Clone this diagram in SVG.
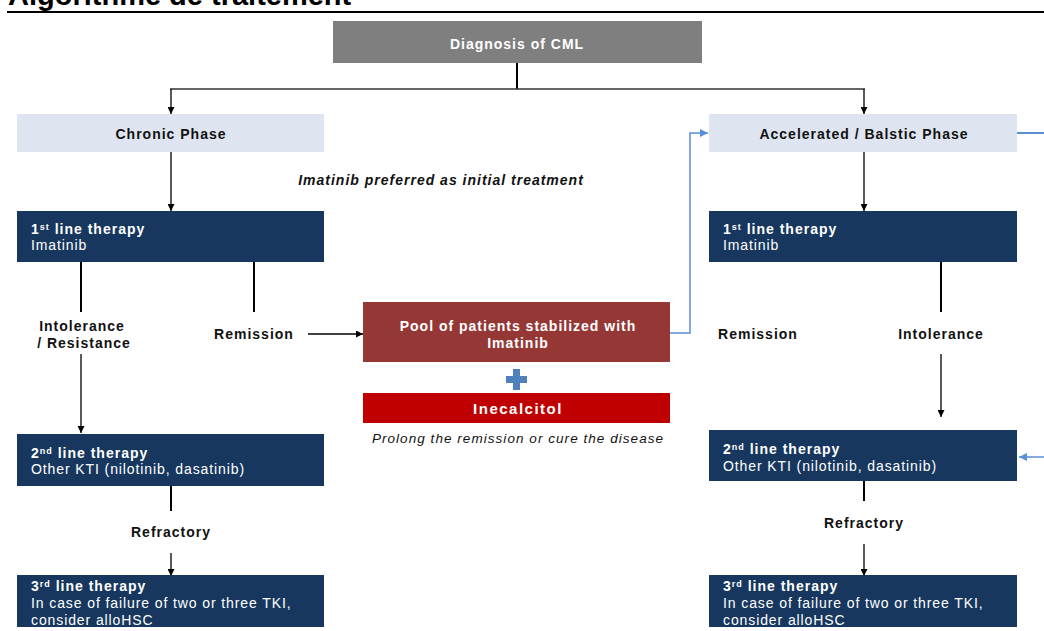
<svg xmlns="http://www.w3.org/2000/svg" width="1044" height="631" viewBox="0 0 1044 631">
<defs>
<style>
text{font-family:"Liberation Sans",Arial,sans-serif;}
.b{font-weight:bold;font-size:14px;letter-spacing:1px;}
.lbl{font-weight:bold;font-size:14px;letter-spacing:1px;fill:#111;text-anchor:middle;}
.w{fill:#fff;}
.n{font-size:14px;letter-spacing:0.9px;fill:#fff;}
.sup{font-size:9px;}
.navy{fill:#17375e;}
.phase{fill:#dee5f0;}
.ln{stroke:#000;stroke-width:2;fill:none;}
.ar{stroke:#000;stroke-width:1.3;fill:none;marker-end:url(#ah);}
.bl{stroke:#5a8fd8;stroke-width:1.5;fill:none;}
</style>
<marker id="ah" viewBox="0 0 10 10" refX="10" refY="5" markerWidth="7" markerHeight="7" markerUnits="userSpaceOnUse" orient="auto"><path d="M0,0L10,5L0,10z" fill="#000"/></marker>
<marker id="bh" viewBox="0 0 10 10" refX="10" refY="5" markerWidth="8" markerHeight="8" markerUnits="userSpaceOnUse" orient="auto"><path d="M0,0L10,5L0,10z" fill="#5a8fd8"/></marker>
</defs>
<rect width="1044" height="631" fill="#fff"/>
<text x="8" y="5" font-size="29" font-weight="bold" fill="#000">Algorithme de traitement</text>
<line x1="7" y1="12" x2="1044" y2="12" stroke="#000" stroke-width="2"/>

<g id="connectors">
<polyline class="ln" points="517,63 517,89"/>
<line x1="170" y1="89" x2="865" y2="89" stroke="#333" stroke-width="1.5"/>
<line class="ar" x1="171" y1="89" x2="171" y2="114"/>
<line class="ar" x1="864" y1="89" x2="864" y2="114"/>
<line class="ar" x1="171" y1="152" x2="171" y2="211"/>
<line class="ln" x1="81" y1="262" x2="81" y2="312"/>
<line class="ln" x1="254" y1="262" x2="254" y2="312"/>
<line class="ar" x1="308" y1="334" x2="363" y2="334"/>
<line class="ar" x1="81" y1="354" x2="81" y2="433"/>
<line class="ln" x1="171" y1="486" x2="171" y2="511"/>
<line class="ar" x1="171" y1="553" x2="171" y2="576"/>
<line class="ar" x1="864" y1="152" x2="864" y2="211"/>
<line class="ln" x1="941" y1="262" x2="941" y2="312"/>
<line class="ar" x1="941" y1="354" x2="941" y2="417"/>
<line class="ln" x1="864" y1="481" x2="864" y2="501"/>
<line class="ar" x1="864" y1="544" x2="864" y2="576"/>
<polyline class="bl" points="670,333 690,333 690,133 708,133" marker-end="url(#bh)"/>
<line x1="1017" y1="133" x2="1044" y2="133" stroke="#5a8fd8" stroke-width="2"/>
<line class="bl" x1="1044" y1="457" x2="1019" y2="457" marker-end="url(#bh)"/>
</g>

<g id="diagnosis">
<rect x="333" y="21" width="369" height="42" fill="#7f7f7f"/>
<text class="b w" x="517" y="49" text-anchor="middle" letter-spacing="1.4">Diagnosis of CML</text>
</g>

<g id="chronic">
<rect class="phase" x="17" y="114" width="307" height="38"/>
<text class="lbl" x="171" y="139" fill="#222">Chronic Phase</text>
</g>

<g id="accelerated">
<rect class="phase" x="709" y="114" width="308" height="38"/>
<text class="lbl" x="864" y="139">Accelerated / Balstic Phase</text>
</g>

<g id="imatinib-note">
<text class="lbl" x="441" y="185" font-style="italic" letter-spacing="1.2">Imatinib preferred as initial treatment</text>
</g>

<g id="left-line1">
<rect class="navy" x="17" y="211" width="307" height="51"/>
<text class="b w" x="31" y="234">1<tspan class="sup" dy="-4">st</tspan><tspan dy="4"> line therapy</tspan></text>
<text class="n" x="31" y="250">Imatinib</text>
</g>

<g id="left-labels">
<text class="lbl" x="82" y="331">Intolerance</text>
<text class="lbl" x="84" y="348">/ Resistance</text>
<text class="lbl" x="254" y="339">Remission</text>
<text class="lbl" x="171" y="537">Refractory</text>
</g>

<g id="left-line2">
<rect class="navy" x="17" y="434" width="307" height="52"/>
<text class="b w" x="31" y="458">2<tspan class="sup" dy="-4">nd</tspan><tspan dy="4"> line therapy</tspan></text>
<text class="n" x="31" y="474">Other KTI (nilotinib, dasatinib)</text>
</g>

<g id="left-line3">
<rect class="navy" x="17" y="575" width="307" height="52"/>
<text class="b w" x="31" y="591">3<tspan class="sup" dy="-4">rd</tspan><tspan dy="4"> line therapy</tspan></text>
<text class="n" x="31" y="608">In case of failure of two or three TKI,</text>
<text class="n" x="31" y="625">consider alloHSC</text>
</g>

<g id="pool">
<rect x="363" y="302" width="307" height="60" fill="#953735"/>
<text class="b w" x="518" y="331" text-anchor="middle" letter-spacing="1.1">Pool of patients stabilized with</text>
<text class="b w" x="518" y="348" text-anchor="middle" letter-spacing="1.1">Imatinib</text>
</g>

<g id="plus">
<rect x="506" y="376" width="21" height="7" fill="#4f81bd"/>
<rect x="513" y="369" width="7" height="21" fill="#4f81bd"/>
</g>

<g id="inecalcitol">
<rect x="363" y="393" width="307" height="30" fill="#c00000"/>
<text x="518" y="414" font-size="15" font-weight="bold" letter-spacing="1.5" fill="#fff" text-anchor="middle">Inecalcitol</text>
<text x="518" y="443" font-size="13.5" font-style="italic" letter-spacing="1.05" fill="#111" text-anchor="middle">Prolong the remission or cure the disease</text>
</g>

<g id="right-line1">
<rect class="navy" x="709" y="211" width="308" height="51"/>
<text class="b w" x="723" y="234">1<tspan class="sup" dy="-4">st</tspan><tspan dy="4"> line therapy</tspan></text>
<text class="n" x="723" y="250">Imatinib</text>
</g>

<g id="right-labels">
<text class="lbl" x="758" y="339">Remission</text>
<text class="lbl" x="941" y="339">Intolerance</text>
<text class="lbl" x="864" y="528">Refractory</text>
</g>

<g id="right-line2">
<rect class="navy" x="709" y="430" width="308" height="51"/>
<text class="b w" x="723" y="454">2<tspan class="sup" dy="-4">nd</tspan><tspan dy="4"> line therapy</tspan></text>
<text class="n" x="723" y="471">Other KTI (nilotinib, dasatinib)</text>
</g>

<g id="right-line3">
<rect class="navy" x="709" y="575" width="308" height="52"/>
<text class="b w" x="723" y="591">3<tspan class="sup" dy="-4">rd</tspan><tspan dy="4"> line therapy</tspan></text>
<text class="n" x="723" y="608">In case of failure of two or three TKI,</text>
<text class="n" x="723" y="625">consider alloHSC</text>
</g>
</svg>
